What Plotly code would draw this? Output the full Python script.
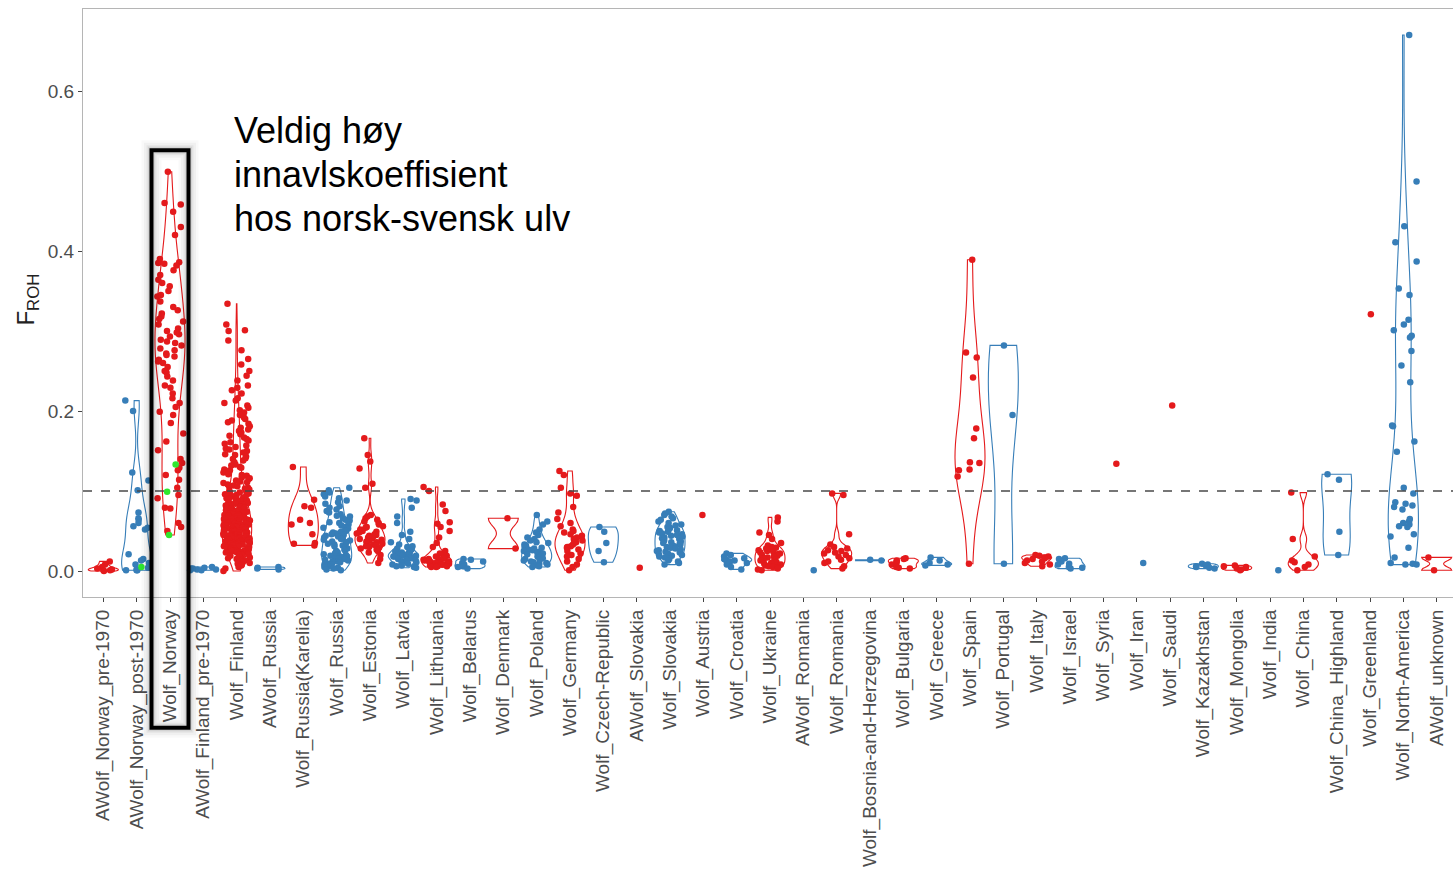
import numpy as np
import plotly.graph_objects as go

# ---- categories (x axis, left to right) ----
categories = [
    "AWolf_Norway_pre-1970", "AWolf_Norway_post-1970", "Wolf_Norway", "AWolf_Finland_pre-1970",
    "Wolf_Finland", "AWolf_Russia", "Wolf_Russia(Karelia)", "Wolf_Russia", "Wolf_Estonia",
    "Wolf_Latvia", "Wolf_Lithuania", "Wolf_Belarus", "Wolf_Denmark", "Wolf_Poland",
    "Wolf_Germany", "Wolf_Czech-Republic", "AWolf_Slovakia", "Wolf_Slovakia", "Wolf_Austria",
    "Wolf_Croatia", "Wolf_Ukraine", "AWolf_Romania", "Wolf_Romania", "Wolf_Bosnia-and-Herzegovina",
    "Wolf_Bulgaria", "Wolf_Greece", "Wolf_Spain", "Wolf_Portugal", "Wolf_Italy", "Wolf_Israel",
    "Wolf_Syria", "Wolf_Iran", "Wolf_Saudi", "Wolf_Kazakhstan", "Wolf_Mongolia", "Wolf_India",
    "Wolf_China", "Wolf_China_Highland", "Wolf_Greenland", "Wolf_North-America", "AWolf_unknown",
]

# ---- F_ROH per individual, in thousandths ----
awolf_norway_pre = [12, 8, 5, 3, 2, 1, 1, 0]
awolf_norway_post = [213, 200, 123, 113, 101, 73, 66, 64, 60, 56, 54, 52, 21, 15, 13, 10, 8, 4, 2, 1, 1, 1]
awolf_norway_post_marked = [5]
wolf_norway = [499, 460, 458, 449, 430, 420, 390, 386, 385, 384, 382, 376, 370, 364, 360, 356, 350,
               345, 343, 337, 330, 326, 322, 318, 315, 312, 308, 303, 300, 298, 296, 293, 289, 287,
               285, 282, 278, 276, 272, 270, 268, 264, 262, 260, 255, 250, 248, 243, 238, 232, 229,
               222, 216, 210, 205, 199, 195, 185, 172, 162, 151, 140, 135, 129, 126, 120, 114, 104,
               95, 91, 79, 78, 60, 55, 50]
wolf_norway_marked = [133, 99, 45]
awolf_finland_pre = [5, 4, 3, 3, 2, 2, 1, 1]
wolf_finland = [334, 308, 301, 300, 288, 276, 265, 258, 250, 244, 238, 232, 229, 226, 222, 216, 213,
                210, 207, 204, 201,
                198, 195, 192, 190, 188, 186, 184, 181, 179, 177, 175, 173, 171, 169, 167, 165, 163,
                161, 159, 157, 155, 153, 152, 150, 148, 146, 145, 143, 141, 140, 138, 136, 135, 133,
                132, 130, 129, 127, 126, 124, 123, 121, 120, 119, 117, 116, 115, 113, 112, 111, 110,
                108, 107, 106, 105, 104, 103, 102, 101, 100,
                99, 98, 97, 97, 96, 95, 95, 94, 93, 93, 92, 91, 91, 90, 90, 89, 88, 88, 87, 87, 86,
                85, 85, 84, 84, 83, 82, 82, 81, 81, 80, 80, 79, 79, 78, 78, 77, 77, 76, 76, 75, 75,
                74, 74, 73, 73, 72, 72, 71, 71, 70, 70, 69, 69, 68, 68, 68, 67, 67, 66, 66, 66, 65,
                65, 64, 64, 64, 63, 63, 62, 62, 62, 61, 61, 60, 60, 60, 59, 59, 58, 58, 58, 57, 57,
                56, 56, 56, 55, 55, 54, 54, 54, 53, 53, 52, 52, 52, 51, 51, 50, 50, 50, 49, 49, 48,
                48, 48, 47, 47, 46, 46, 46, 45, 45, 44, 44, 44, 43, 43, 42, 42, 42, 41, 41, 40, 40,
                40, 39, 39, 38, 38, 38, 37, 37, 36, 36, 36, 35, 35, 34, 34, 34, 33, 33, 32, 32, 31,
                31, 30, 30, 29, 29, 28, 28, 27, 27, 26, 26, 25, 25, 24, 24, 23, 23, 22, 22, 21, 21,
                20, 20, 19, 18, 17, 16, 15, 14, 13, 12, 11, 10, 9, 8, 7, 5, 3, 0]
awolf_russia = [5, 4, 3, 2]
wolf_karelia = [130, 89, 81, 79, 64, 60, 58, 46, 35, 34, 32]
wolf_russia = [104, 101, 98, 96, 93, 91, 88, 86, 84, 81, 79, 77, 75, 73, 71, 69, 68, 66, 64, 63, 61,
               60, 58, 57, 55, 54, 53, 51, 50, 49, 48, 47, 46, 45, 44, 43, 42, 41, 40, 39, 38, 37,
               36, 35, 34, 33, 32, 31, 30, 29, 28, 27, 26, 25, 24, 23, 22, 21, 20, 19, 18, 18, 17,
               16, 15, 15, 14, 13, 12, 12, 11, 10, 9, 8, 8, 7, 6, 5, 4, 3, 2, 1]
wolf_estonia = [166, 145, 137, 128, 109, 104, 70, 68, 66, 64, 62, 60, 58, 56, 55, 54, 52, 50, 49, 48,
                47, 46, 45, 44, 43, 42, 41, 40, 39, 38, 37, 36, 35, 34, 33, 32, 31, 30, 29, 28, 27,
                25, 23, 20, 15, 10]
wolf_latvia = [90, 88, 79, 68, 60, 49, 45, 40, 36, 33, 31, 30, 29, 28, 27, 26, 25, 24, 23, 22, 22, 21,
               21, 20, 20, 19, 19, 18, 18, 17, 17, 16, 16, 15, 14, 13, 12, 11, 10, 9, 8, 7, 6, 5, 4]
wolf_lithuania = [105, 100, 83, 75, 61, 59, 55, 50, 42, 35, 30, 25, 22, 20, 19, 18, 17, 16, 15, 15,
                  14, 14, 13, 13, 12, 12, 11, 11, 10, 10, 9, 9, 8, 8, 7, 7, 6, 6, 5, 5]
wolf_belarus = [15, 14, 12, 10, 8, 6, 5, 3]
wolf_denmark = [66, 28]
wolf_poland = [70, 62, 58, 52, 48, 45, 42, 40, 38, 36, 35, 33, 32, 30, 29, 28, 27, 26, 25, 24, 23, 22,
               21, 20, 19, 18, 17, 16, 15, 14, 13, 12, 11, 10, 9, 8, 7, 6, 5]
wolf_germany = [125, 120, 104, 97, 94, 80, 73, 65, 60, 56, 52, 50, 48, 46, 44, 42, 40, 38, 36, 35, 33,
                31, 30, 29, 27, 25, 22, 20, 18, 15, 12, 8, 5, 1]
wolf_czech = [55, 49, 35, 25, 11]
awolf_slovakia = [4]
wolf_slovakia = [74, 72, 70, 68, 66, 64, 62, 60, 58, 57, 55, 54, 53, 52, 51, 50, 49, 48, 47, 46, 45,
                 44, 43, 42, 41, 40, 39, 38, 37, 36, 35, 34, 33, 32, 31, 30, 29, 28, 27, 26, 25, 24,
                 23, 22, 21, 20, 19, 18, 17, 15, 13, 12, 10, 8]
wolf_austria = [70]
wolf_croatia = [22, 20, 18, 16, 15, 14, 13, 12, 10, 8, 5, 2]
wolf_ukraine = [67, 62, 48, 45, 40, 35, 32, 30, 29, 28, 27, 26, 25, 24, 23, 22, 21, 20, 19, 18, 17,
                16, 15, 14, 13, 12, 11, 10, 9, 8, 7, 6, 5, 4, 3, 2, 1]
awolf_romania = [1]
wolf_romania = [97, 95, 46, 33, 30, 28, 26, 25, 23, 22, 20, 18, 16, 14, 12, 10, 6, 3]
wolf_bosnia = [14, 13]
wolf_bulgaria = [16, 15, 13, 12, 10, 8, 5, 4, 3]
wolf_greece = [17, 13, 10, 8, 7]
wolf_spain = [389, 273, 267, 242, 178, 166, 136, 135, 127, 126, 118, 9]
wolf_portugal = [282, 195, 9]
wolf_italy = [20, 19, 18, 17, 16, 15, 13, 12, 10, 8, 6]
wolf_israel = [16, 15, 12, 9, 8, 5, 4, 3]
wolf_syria = [134]
wolf_iran = [10]
wolf_saudi = [207]
wolf_kazakhstan = [9, 8, 7, 6, 5, 4, 3]
wolf_mongolia = [7, 6, 5, 4, 3, 2, 1]
wolf_india = [1]
wolf_china = [98, 40, 18, 13, 11, 8, 5, 1]
wolf_china_highland = [121, 114, 49, 20]
wolf_greenland = [321]
wolf_north_america = [670, 487, 431, 411, 387, 353, 345, 314, 308, 301, 294, 292, 275, 257, 236, 182,
                      181, 162, 149, 104, 97, 86, 84, 82, 80, 77, 65, 62, 60, 58, 56, 55, 46, 43, 29,
                      17, 10, 9, 8, 8]
awolf_unknown = [17, 1]

groups = [
    awolf_norway_pre, awolf_norway_post, wolf_norway, awolf_finland_pre, wolf_finland, awolf_russia,
    wolf_karelia, wolf_russia, wolf_estonia, wolf_latvia, wolf_lithuania, wolf_belarus, wolf_denmark,
    wolf_poland, wolf_germany, wolf_czech, awolf_slovakia, wolf_slovakia, wolf_austria, wolf_croatia,
    wolf_ukraine, awolf_romania, wolf_romania, wolf_bosnia, wolf_bulgaria, wolf_greece, wolf_spain,
    wolf_portugal, wolf_italy, wolf_israel, wolf_syria, wolf_iran, wolf_saudi, wolf_kazakhstan,
    wolf_mongolia, wolf_india, wolf_china, wolf_china_highland, wolf_greenland, wolf_north_america,
    awolf_unknown,
]
# individuals highlighted in green, by category index
marked = {1: awolf_norway_post_marked, 2: wolf_norway_marked}

annotation_lines = ["Veldig høy", "innavlskoeffisient", "hos norsk-svensk ulv"]

RED = "#E41A1C"
BLUE = "#377EB8"
GREEN = "#2EE62E"
FONT = "Liberation Sans, Arial, sans-serif"

X_RANGE = [-0.61, 40.49]
Y_RANGE = [-0.0325, 0.7025]
VIOLIN_WIDTH = 0.9
JITTER = 0.4


def bw_nrd0(v):
    """Silverman's rule of thumb as in R's bw.nrd0."""
    v = np.asarray(v, dtype=float)
    hi = np.std(v, ddof=1)
    q1, q3 = np.percentile(v, [25, 75])
    lo = min(hi, (q3 - q1) / 1.34)
    if not lo:
        lo = hi or abs(v[0]) or 1.0
    return 0.9 * lo * len(v) ** (-0.2)


def spread(i, k):
    """Deterministic scatter offset in [-1, 1) for point k of category i."""
    h = np.sin(12.9898 * (k + 1) + 78.233 * (i + 1)) * 43758.5453
    return (h - np.floor(h)) * 2.0 - 1.0


fig = go.Figure()

pts_x = {RED: [], BLUE: [], GREEN: []}
pts_y = {RED: [], BLUE: [], GREEN: []}

for i, name in enumerate(categories):
    colour = RED if i % 2 == 0 else BLUE
    vals = [v / 1000 for v in groups[i]]
    hl = [v / 1000 for v in marked.get(i, [])]
    allv = vals + hl
    if len(allv) >= 2:
        fig.add_trace(go.Violin(
            x=[i] * len(allv), y=allv, width=VIOLIN_WIDTH, scalemode="width",
            spanmode="hard", bandwidth=bw_nrd0(allv), points=False,
            line=dict(color=colour, width=1.1), fillcolor="rgba(0,0,0,0)",
            box_visible=False, meanline_visible=False, showlegend=False,
            hoverinfo="skip", orientation="v",
        ))
    for k, v in enumerate(vals):
        pts_x[colour].append(i + spread(i, k) * JITTER)
        pts_y[colour].append(v)
    for k, v in enumerate(hl):
        pts_x[GREEN].append(i + spread(i, k + 500) * JITTER)
        pts_y[GREEN].append(v)

for colour in (RED, BLUE, GREEN):
    fig.add_trace(go.Scatter(
        x=pts_x[colour], y=pts_y[colour], mode="markers",
        marker=dict(color=colour, size=6.5, line=dict(width=0)),
        showlegend=False, hoverinfo="skip",
    ))

# threshold line
fig.add_shape(type="line", xref="paper", x0=0, x1=1, yref="y", y0=0.1, y1=0.1,
              line=dict(color="#4a4a4a", width=1.5, dash="dash"))


# frame around Wolf_Norway, reaching down over its axis label
def xdom(v):
    return (v - X_RANGE[0]) / (X_RANGE[1] - X_RANGE[0])


def ydom(v):
    return (v - Y_RANGE[0]) / (Y_RANGE[1] - Y_RANGE[0])


focus = categories.index("Wolf_Norway")
fx0, fx1 = xdom(focus - 0.555), xdom(focus + 0.555)
fy0, fy1 = ydom(-0.196), ydom(0.526)
for w, a in [(20, 0.025), (15, 0.035), (10, 0.05), (7, 0.07)]:
    fig.add_shape(type="rect", xref="x domain", yref="y domain", x0=fx0, x1=fx1, y0=fy0, y1=fy1,
                  line=dict(color=f"rgba(0,0,0,{a})", width=w), fillcolor="rgba(0,0,0,0)")
fig.add_shape(type="rect", xref="x domain", yref="y domain", x0=fx0, x1=fx1, y0=fy0, y1=fy1,
              line=dict(color="black", width=4), fillcolor="rgba(0,0,0,0)")

# three-line note beside the frame
for n, (line_text, y_line) in enumerate(zip(annotation_lines, [0.551, 0.496, 0.441])):
    fig.add_annotation(
        text=line_text, xref="x", yref="y", x=3.86, y=y_line,
        xanchor="left", yanchor="middle", align="left", showarrow=False,
        font=dict(family=FONT, size=36, color="black"),
    )

fig.add_annotation(
    text="F<sub>ROH</sub>", xref="paper", yref="paper", x=-0.0405, y=0.505,
    xanchor="center", yanchor="middle", textangle=-90, showarrow=False,
    font=dict(family=FONT, size=24, color="#222222"),
)

axis_common = dict(
    showgrid=False, zeroline=False, showline=True, mirror=True,
    linecolor="#b5b5b5", linewidth=1.2, ticks="outside", ticklen=4,
    tickcolor="#444444", tickwidth=1,
    tickfont=dict(family=FONT, size=19, color="#4D4D4D"),
)

fig.update_layout(
    width=1453, height=873,
    margin=dict(l=83, r=0, t=9, b=276),
    paper_bgcolor="white", plot_bgcolor="white",
    violinmode="overlay", showlegend=False,
    xaxis=dict(range=X_RANGE, tickmode="array", tickvals=list(range(len(categories))),
               ticktext=categories, tickangle=-90, **axis_common),
    yaxis=dict(range=Y_RANGE, tickmode="array", tickvals=[0, 0.2, 0.4, 0.6],
               ticktext=["0.0", "0.2", "0.4", "0.6"], **axis_common),
)

fig.write_html("out.html")
